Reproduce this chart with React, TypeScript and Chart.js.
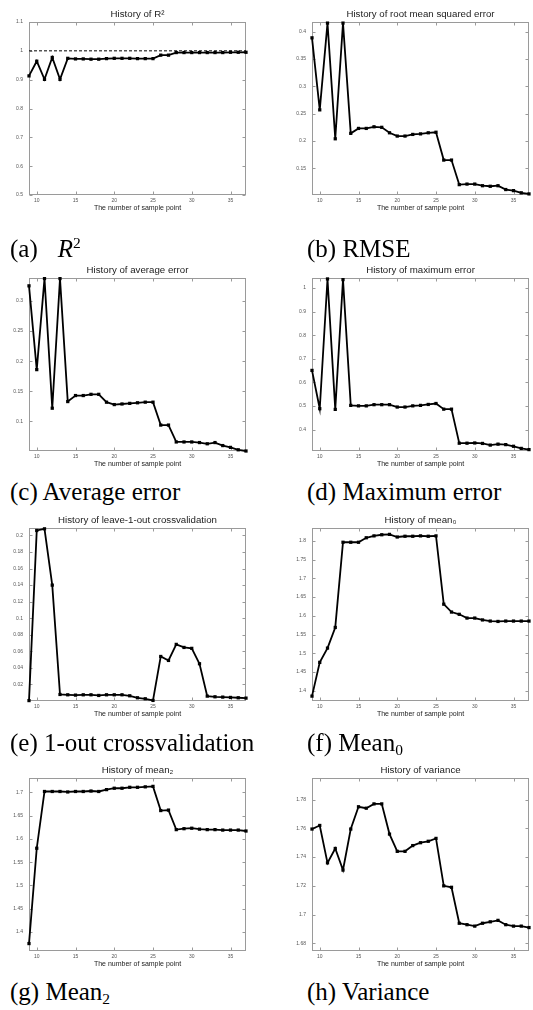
import React, { useEffect, useRef } from 'react';
import { Chart, registerables } from 'chart.js';

Chart.register(...registerables);

// ---------------- data ----------------
const sampleCounts = [9, 10, 11, 12, 13, 14, 15, 16, 17, 18, 19, 20, 21, 22, 23, 24, 25, 26, 27, 28, 29, 30, 31, 32, 33, 34, 35, 36, 37];
const xTickValues = [10, 15, 20, 25, 30, 35];

const r2Values = [0.913, 0.964, 0.901, 0.977, 0.901, 0.974, 0.972, 0.972, 0.971, 0.971, 0.973, 0.974, 0.974, 0.974, 0.973, 0.973, 0.973, 0.985, 0.985, 0.994, 0.994, 0.994, 0.994, 0.994, 0.994, 0.994, 0.995, 0.995, 0.995];
const r2Reference = 1;
const r2Ticks = [0.5, 0.6, 0.7, 0.8, 0.9, 1, 1.1];

const rmseValues = [0.389, 0.257, 0.416, 0.204, 0.416, 0.214, 0.223, 0.223, 0.226, 0.225, 0.215, 0.209, 0.209, 0.212, 0.213, 0.215, 0.216, 0.165, 0.165, 0.12, 0.121, 0.121, 0.118, 0.117, 0.118, 0.111, 0.109, 0.105, 0.103];
const rmseTicks = [0.15, 0.2, 0.25, 0.3, 0.35, 0.4];

const avgErrorValues = [0.325, 0.186, 0.337, 0.122, 0.337, 0.133, 0.143, 0.143, 0.145, 0.145, 0.132, 0.128, 0.129, 0.13, 0.131, 0.132, 0.132, 0.094, 0.094, 0.066, 0.066, 0.066, 0.065, 0.063, 0.065, 0.06, 0.057, 0.053, 0.051];
const avgErrorTicks = [0.1, 0.15, 0.2, 0.25, 0.3];

const maxErrorValues = [0.651, 0.489, 1.038, 0.486, 1.035, 0.503, 0.501, 0.501, 0.506, 0.506, 0.506, 0.496, 0.496, 0.501, 0.503, 0.507, 0.511, 0.487, 0.487, 0.343, 0.343, 0.344, 0.342, 0.335, 0.339, 0.337, 0.33, 0.321, 0.316];
const maxErrorTicks = [0.4, 0.5, 0.6, 0.7, 0.8, 0.9, 1];

const crossValValues = [0.0005, 0.206, 0.208, 0.14, 0.0079, 0.0075, 0.0071, 0.0075, 0.0075, 0.0067, 0.0075, 0.0075, 0.0075, 0.0063, 0.0039, 0.0027, 0.0007, 0.0538, 0.049, 0.0684, 0.0647, 0.0636, 0.045, 0.0059, 0.0051, 0.0047, 0.0043, 0.0039, 0.0035];
const crossValTicks = [0.02, 0.04, 0.06, 0.08, 0.1, 0.12, 0.14, 0.16, 0.18, 0.2];

const mean0Values = [1.386, 1.476, 1.514, 1.569, 1.796, 1.796, 1.796, 1.808, 1.813, 1.816, 1.817, 1.81, 1.812, 1.812, 1.813, 1.812, 1.813, 1.631, 1.61, 1.604, 1.594, 1.594, 1.589, 1.586, 1.585, 1.586, 1.586, 1.586, 1.586];
const mean0Ticks = [1.4, 1.45, 1.5, 1.55, 1.6, 1.65, 1.7, 1.75, 1.8];

const mean2Values = [1.375, 1.58, 1.702, 1.702, 1.702, 1.701, 1.702, 1.702, 1.703, 1.702, 1.706, 1.709, 1.709, 1.711, 1.711, 1.712, 1.713, 1.661, 1.662, 1.62, 1.622, 1.623, 1.621, 1.62, 1.62, 1.619, 1.619, 1.619, 1.617];
const mean2Ticks = [1.4, 1.45, 1.5, 1.55, 1.6, 1.65, 1.7];

const varianceValues = [1.7595, 1.762, 1.736, 1.746, 1.731, 1.7595, 1.775, 1.774, 1.777, 1.777, 1.756, 1.744, 1.744, 1.748, 1.75, 1.751, 1.753, 1.72, 1.719, 1.694, 1.693, 1.692, 1.694, 1.695, 1.696, 1.693, 1.692, 1.692, 1.691];
const varianceTicks = [1.68, 1.7, 1.72, 1.74, 1.76, 1.78];

const xAxisLabel = 'The number of sample point';

// ---------------- styling / layout ----------------
const SANS = "'Liberation Sans', Arial, Helvetica, sans-serif";
const SERIF = "'Liberation Serif', 'Times New Roman', Times, serif";
const CANVAS_W = 250;
const CANVAS_H = 215;

type PanelSpec = {
  key: string;
  title: string;
  values: number[];
  yMin: number;
  yMax: number;
  yTicks: number[];
  reference?: number;
  left: number;
  top: number;
};

const panels: PanelSpec[] = [
  { key: 'a', title: 'History of R\u00B2', values: r2Values, yMin: 0.5, yMax: 1.1, yTicks: r2Ticks, reference: r2Reference, left: 0, top: 0 },
  { key: 'b', title: 'History of root mean squared error', values: rmseValues, yMin: 0.101, yMax: 0.418, yTicks: rmseTicks, left: 283, top: 0 },
  { key: 'c', title: 'History of average error', values: avgErrorValues, yMin: 0.051, yMax: 0.338, yTicks: avgErrorTicks, left: 0, top: 256 },
  { key: 'd', title: 'History of maximum error', values: maxErrorValues, yMin: 0.31, yMax: 1.042, yTicks: maxErrorTicks, left: 283, top: 256 },
  { key: 'e', title: 'History of leave-1-out crossvalidation', values: crossValValues, yMin: 0, yMax: 0.209, yTicks: crossValTicks, left: 0, top: 506 },
  { key: 'f', title: 'History of mean\u2080', values: mean0Values, yMin: 1.373, yMax: 1.834, yTicks: mean0Ticks, left: 283, top: 506 },
  { key: 'g', title: 'History of mean\u2082', values: mean2Values, yMin: 1.359, yMax: 1.731, yTicks: mean2Ticks, left: 0, top: 756 },
  { key: 'h', title: 'History of variance', values: varianceValues, yMin: 1.6747, yMax: 1.795, yTicks: varianceTicks, left: 283, top: 756 },
];

const framePlugin = {
  id: 'matlabFrame',
  beforeDatasetsDraw(chart: any) {
    const { ctx, chartArea: a, scales } = chart;
    const L = Math.round(a.left) + 0.5;
    const R = Math.round(a.right) - 0.5;
    const T = Math.round(a.top) + 0.5;
    const B = Math.round(a.bottom) - 0.5;
    ctx.save();
    ctx.strokeStyle = '#9a9a9a';
    ctx.lineWidth = 1;
    ctx.strokeRect(L, T, R - L, B - T);
    ctx.beginPath();
    scales.x.ticks.forEach((t: any) => {
      const px = Math.round(scales.x.getPixelForValue(t.value)) + 0.5;
      ctx.moveTo(px, B);
      ctx.lineTo(px, B - 3);
      ctx.moveTo(px, T);
      ctx.lineTo(px, T + 3);
    });
    scales.y.ticks.forEach((t: any) => {
      const py = Math.round(scales.y.getPixelForValue(t.value)) + 0.5;
      ctx.moveTo(L, py);
      ctx.lineTo(L + 3, py);
      ctx.moveTo(R, py);
      ctx.lineTo(R - 3, py);
    });
    ctx.stroke();
    ctx.restore();
  },
};

function Panel({ spec }: { spec: PanelSpec }) {
  const ref = useRef<HTMLCanvasElement>(null);
  useEffect(() => {
    const datasets: any[] = [
      {
        data: sampleCounts.map((x, i) => ({ x, y: spec.values[i] })),
        borderColor: '#000',
        backgroundColor: '#000',
        borderWidth: 1.8,
        pointStyle: 'rect',
        pointRadius: 2.3,
        pointBorderWidth: 0,
        pointBackgroundColor: '#000',
        tension: 0,
        clip: false,
      },
    ];
    if (spec.reference !== undefined) {
      datasets.push({
        data: [
          { x: sampleCounts[0], y: spec.reference },
          { x: sampleCounts[sampleCounts.length - 1], y: spec.reference },
        ],
        borderColor: '#000',
        borderWidth: 1,
        borderDash: [3, 2],
        pointRadius: 0,
        clip: false,
      });
    }
    const chart = new Chart(ref.current as HTMLCanvasElement, {
      type: 'line',
      data: { datasets },
      plugins: [framePlugin],
      options: {
        animation: false,
        responsive: false,
        devicePixelRatio: 1,
        events: [],
        layout: { padding: { left: 0, right: 1, top: 0, bottom: 0 } },
        plugins: {
          legend: { display: false },
          tooltip: { enabled: false },
          title: {
            display: true,
            text: spec.title,
            fullSize: false,
            color: '#222',
            font: { size: 9.7, family: SANS, weight: 'normal', lineHeight: '12px' } as any,
            padding: { top: 8, bottom: 2 },
          },
        },
        scales: {
          x: {
            type: 'linear',
            min: sampleCounts[0],
            max: sampleCounts[sampleCounts.length - 1],
            afterBuildTicks: (s: any) => {
              s.ticks = xTickValues.map((v) => ({ value: v }));
            },
            afterFit: (s: any) => {
              s.height = 20;
            },
            ticks: {
              font: { size: 5, family: SANS },
              color: '#555',
              padding: 3,
              maxRotation: 0,
              autoSkip: false,
              callback: (v: any) => String(v),
            },
            grid: { display: false, drawTicks: false },
            border: { display: false },
            title: {
              display: true,
              text: xAxisLabel,
              color: '#222',
              font: { size: 7, family: SANS },
              padding: { top: 0, bottom: 3 },
            },
          },
          y: {
            type: 'linear',
            min: spec.yMin,
            max: spec.yMax,
            afterBuildTicks: (s: any) => {
              s.ticks = spec.yTicks.map((v) => ({ value: v }));
            },
            afterFit: (s: any) => {
              s.width = 29;
            },
            ticks: {
              font: { size: 5, family: SANS },
              color: '#555',
              padding: 6,
              autoSkip: false,
              callback: (v: any) => String(v),
            },
            grid: { display: false, drawTicks: false },
            border: { display: false },
          },
        },
      } as any,
    });
    return () => chart.destroy();
  }, [spec]);
  return (
    <canvas
      ref={ref}
      width={CANVAS_W}
      height={CANVAS_H}
      style={{ position: 'absolute', left: spec.left, top: spec.top, width: CANVAS_W, height: CANVAS_H }}
    />
  );
}

const captionStyle: React.CSSProperties = {
  position: 'absolute',
  fontFamily: SERIF,
  fontSize: 25,
  lineHeight: '25px',
  color: '#000',
  whiteSpace: 'nowrap',
};

const subStyle: React.CSSProperties = { fontSize: '0.62em', verticalAlign: '-0.25em', lineHeight: 0 };
const supStyle: React.CSSProperties = { fontSize: '0.62em', verticalAlign: '0.6em', lineHeight: 0 };

export default function App() {
  return (
    <div style={{ position: 'absolute', left: 0, top: 0, width: 533, height: 1010, background: '#fff', overflow: 'hidden' }}>
      {panels.map((p) => (
        <Panel key={p.key} spec={p} />
      ))}
      <div style={{ ...captionStyle, left: 10, top: 236 }}>
        (a)<span style={{ marginLeft: 20, fontStyle: 'italic' }}>R</span>
        <span style={supStyle}>2</span>
      </div>
      <div style={{ ...captionStyle, left: 307, top: 236 }}>(b) RMSE</div>
      <div style={{ ...captionStyle, left: 10, top: 479 }}>(c) Average error</div>
      <div style={{ ...captionStyle, left: 307, top: 479 }}>(d) Maximum error</div>
      <div style={{ ...captionStyle, left: 10, top: 730 }}>(e) 1-out crossvalidation</div>
      <div style={{ ...captionStyle, left: 307, top: 730 }}>
        (f) Mean<span style={subStyle}>0</span>
      </div>
      <div style={{ ...captionStyle, left: 10, top: 979 }}>
        (g) Mean<span style={subStyle}>2</span>
      </div>
      <div style={{ ...captionStyle, left: 307, top: 979 }}>(h) Variance</div>
    </div>
  );
}
